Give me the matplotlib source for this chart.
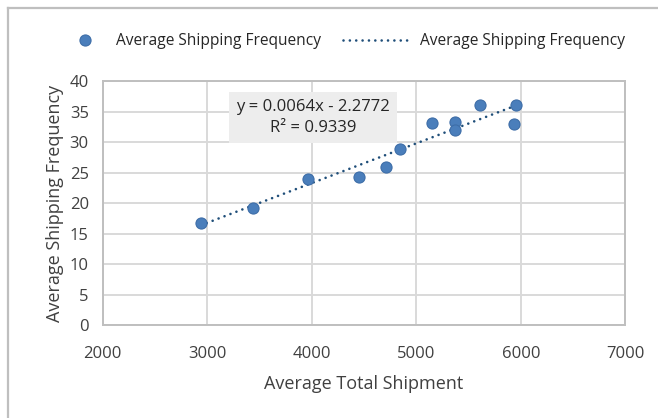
import matplotlib
matplotlib.use("Agg")
import matplotlib.pyplot as plt
import numpy as np
from matplotlib.lines import Line2D
from matplotlib.patches import Rectangle

# Data
avg_total_shipment = [2938, 3441, 3965, 4450, 4711, 4848, 5154, 5371, 5371, 5608, 5958, 5936]
avg_shipping_freq = [16.8, 19.2, 24.0, 24.3, 25.9, 28.9, 33.2, 33.3, 32.0, 36.1, 36.1, 33.0]
series_name = "Average Shipping Frequency"
equation_text = "y = 0.0064x - 2.2772\nR² = 0.9339"
x_ticks = [2000, 3000, 4000, 5000, 6000, 7000]
y_ticks = [0, 5, 10, 15, 20, 25, 30, 35, 40]

plt.rcParams['font.family'] = ['Open Sans', 'DejaVu Sans']

W, H = 658, 418
fig = plt.figure(figsize=(W / 100, H / 100), dpi=100)
ax = fig.add_axes([102.7 / W, 1 - 325.3 / H, (625.3 - 102.7) / W, (325.3 - 81) / H])

grid_c = "#d9d9d9"
ax.set_xlim(2000, 7000)
ax.set_ylim(0, 40)
ax.set_xticks(x_ticks)
ax.set_yticks(y_ticks)
ax.grid(True, color=grid_c, linewidth=1.4)
ax.set_axisbelow(True)
for s in ax.spines.values():
    s.set_color("#bfbfbf")
    s.set_linewidth(1.4)
ax.tick_params(length=0, labelsize=12, colors="#404040")
ax.tick_params(axis="x", pad=15)
ax.tick_params(axis="y", pad=10)

ax.set_xlabel("Average Total Shipment", fontsize=13, color="#404040", labelpad=9)
ax.set_ylabel("Average Shipping Frequency", fontsize=13, color="#404040", labelpad=4)

mcol = "#4a7ebb"
ecol = "#3e6ea8"
ax.plot(avg_total_shipment, avg_shipping_freq, linestyle="none", marker="o",
        markersize=8, markerfacecolor=mcol, markeredgecolor=ecol,
        markeredgewidth=0.8, zorder=3)

# linear trendline (least squares)
coef = np.polyfit(avg_total_shipment, avg_shipping_freq, 1)
xs = np.array([min(avg_total_shipment), max(avg_total_shipment)])
dot_style = (0, (0.01, 2.4))
ax.plot(xs, np.polyval(coef, xs), linestyle=dot_style, color="#1f4e79",
        linewidth=1.9, dash_capstyle="round", zorder=2)

# equation label box
bx0 = (229 - 102.7) / 522.6
bx1 = (397 - 102.7) / 522.6
by0 = (325.3 - 143) / 244.3
by1 = (325.3 - 92) / 244.3
ax.add_patch(Rectangle((bx0, by0), bx1 - bx0, by1 - by0, transform=ax.transAxes,
                       facecolor="#ededed", edgecolor="none", zorder=2.5))
ax.text((bx0 + bx1) / 2, (by0 + by1) / 2, equation_text, transform=ax.transAxes,
        ha="center", va="center", fontsize=12, color="#262626",
        linespacing=1.4, zorder=4)

# legend (two entries)
h1 = Line2D([], [], linestyle="none", marker="o", markersize=8,
            markerfacecolor=mcol, markeredgecolor=ecol, markeredgewidth=0.8)
h2 = Line2D([], [], linestyle=dot_style, color="#1f4e79", linewidth=1.9,
            dash_capstyle="round")
leg1 = fig.legend([h1], [series_name], loc="center left",
                  bbox_to_anchor=(69 / W, 1 - 41 / H), frameon=False,
                  fontsize=11.2, handlelength=2.0, handletextpad=1.0,
                  borderpad=0, borderaxespad=0, labelcolor="#262626")
leg2 = fig.legend([h2], [series_name], loc="center left",
                  bbox_to_anchor=(343 / W, 1 - 41 / H), frameon=False,
                  fontsize=11.2, handlelength=4.4, handletextpad=0.55,
                  borderpad=0, borderaxespad=0, labelcolor="#262626")

# outer chart border (only top-left visible)
fig.add_artist(Line2D([8 / W, 8 / W], [0, 1 - 8 / H], transform=fig.transFigure,
                      color="#bfbfbf", linewidth=1.6))
fig.add_artist(Line2D([8 / W, 1], [1 - 8 / H, 1 - 8 / H], transform=fig.transFigure,
                      color="#bfbfbf", linewidth=1.6))

fig.savefig("out.png", dpi=100)
